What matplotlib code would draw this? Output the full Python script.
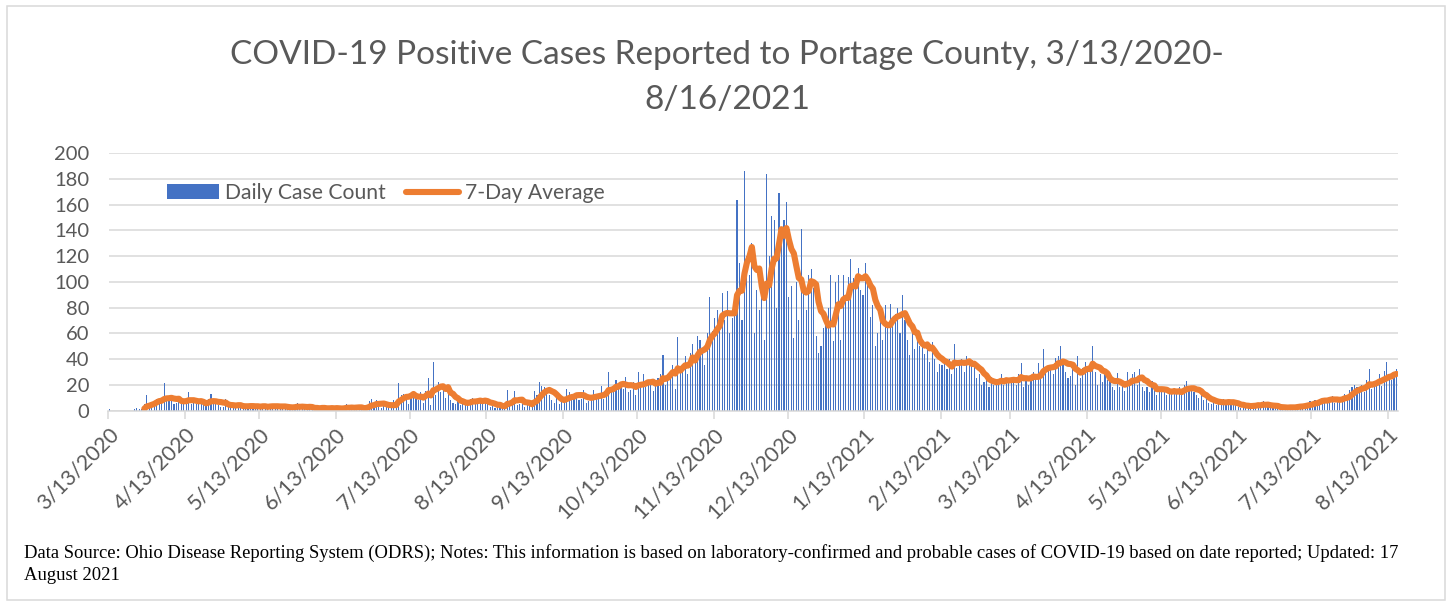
import numpy as np
import pandas as pd
import matplotlib
matplotlib.use("Agg")
import matplotlib.pyplot as plt
import matplotlib.dates as mdates
from matplotlib.patches import Rectangle, Patch
from matplotlib.lines import Line2D

# daily case counts, one list per month
mar_2020 = [1, 0, 0, 0, 0, 0, 0, 0, 0, 0, 1, 2, 1, 1, 5, 12, 4, 6, 7]
apr_2020 = [9, 8, 7, 21, 8, 7, 9, 5, 6, 8, 9, 6, 8, 14, 5, 6,
            5, 6, 7, 4, 6, 9, 13, 6, 5, 4, 3, 3, 9, 3]
may_2020 = [3, 4, 2, 5, 3, 4, 2, 3, 5, 2, 4, 3, 2, 4, 3, 2, 4, 5, 3, 2,
            3, 3, 2, 2, 3, 2, 3, 6, 2, 3, 1]
jun_2020 = [2, 3, 2, 1, 2, 1, 3, 2, 1, 2, 2, 1, 2, 2, 1, 2, 5, 2, 2, 1,
            3, 2, 2, 1, 3, 7, 9, 5, 8, 3]
jul_2020 = [2, 4, 3, 5, 4, 8, 4, 21, 12, 13, 12, 5, 13, 14, 10, 8, 14, 6,
            15, 25, 4, 38, 12, 22, 14, 17, 10, 14, 8, 6, 5]
aug_2020 = [7, 4, 6, 8, 5, 9, 10, 7, 6, 9, 5, 8, 6, 3, 4, 2, 3, 5, 2, 4,
            16, 6, 8, 15, 4, 5, 5, 3, 4, 6, 7]
sep_2020 = [15, 12, 22, 19, 18, 14, 12, 8, 6, 10, 5, 7, 9, 17, 14, 11, 12,
            13, 8, 9, 16, 6, 7, 10, 16, 11, 12, 19, 9, 14]
oct_2020 = [30, 18, 15, 24, 20, 21, 17, 26, 14, 16, 22, 12, 30, 20, 28,
            18, 24, 22, 15, 19, 25, 28, 43, 20, 28, 30, 35, 17, 57, 30, 35]
nov_2020 = [42, 28, 45, 52, 40, 58, 55, 48, 35, 60, 88, 62, 72, 78, 65,
            91, 70, 93, 60, 72, 78, 164, 115, 70, 186, 120, 105, 130, 60, 94]
dec_2020 = [78, 90, 55, 184, 120, 151, 148, 80, 169, 135, 148, 162, 88,
            97, 56, 100, 70, 141, 100, 78, 105, 110, 95, 58, 45, 50, 64,
            70, 80, 105, 54]
jan_2021 = [100, 105, 55, 105, 90, 104, 118, 103, 100, 111, 94, 90, 115,
            98, 73, 82, 50, 60, 70, 55, 82, 65, 83, 72, 75, 80, 60, 90, 70,
            55, 43]
feb_2021 = [60, 48, 58, 50, 50, 44, 50, 38, 53, 40, 30, 36, 35, 38, 32,
            40, 28, 52, 33, 36, 40, 30, 42, 35, 38, 34, 25, 28]
mar_2021 = [20, 22, 24, 18, 26, 20, 24, 22, 28, 20, 25, 24, 22, 26, 20,
            28, 37, 18, 25, 20, 27, 30, 26, 37, 25, 48, 30, 35, 33, 28, 41]
apr_2021 = [42, 50, 38, 30, 25, 27, 37, 20, 42, 25, 33, 38, 32, 35, 50,
            30, 20, 28, 22, 28, 24, 24, 18, 16, 29, 18, 20, 15, 30, 22]
may_2021 = [28, 30, 20, 32, 18, 15, 18, 14, 23, 16, 12, 18, 15, 17, 12,
            15, 13, 16, 14, 18, 12, 20, 23, 16, 18, 14, 12, 10, 12, 8, 10]
jun_2021 = [6, 5, 7, 4, 8, 6, 9, 5, 7, 6, 4, 5, 3, 2, 4, 3, 5, 2, 6, 4,
            5, 3, 7, 4, 3, 3, 2, 4, 2, 1]
jul_2021 = [3, 2, 2, 3, 4, 2, 3, 5, 3, 4, 6, 7, 5, 8, 7, 9, 10, 8, 7, 9,
            11, 6, 9, 8, 10, 13, 12, 16, 18, 20, 18]
aug_2021 = [15, 20, 14, 24, 32, 17, 22, 20, 28, 19, 31, 38, 25, 24, 30, 32]

first_day = "2020-03-13"
avg_first = 14          # 7-day average is shown from 3/27/2020 on

title_1 = "COVID-19 Positive Cases Reported to Portage County, 3/13/2020-"
title_2 = "8/16/2021"
note_1 = ("Data Source: Ohio Disease Reporting System (ODRS); Notes: This "
          "information is based on laboratory-confirmed and probable cases "
          "of COVID-19 based on date reported; Updated: 17")
note_2 = "August 2021"

daily = np.array(mar_2020 + apr_2020 + may_2020 + jun_2020 + jul_2020 +
                 aug_2020 + sep_2020 + oct_2020 + nov_2020 + dec_2020 +
                 jan_2021 + feb_2021 + mar_2021 + apr_2021 + may_2021 +
                 jun_2021 + jul_2021 + aug_2021, dtype=float)
days = pd.date_range(first_day, periods=len(daily), freq="D")
avg7 = pd.Series(daily).rolling(7).mean().to_numpy()

xd = mdates.date2num(days) + 0.5
ticks = pd.date_range(first_day, "2021-08-13", freq=pd.DateOffset(months=1))

W, H = 1448, 602
grey = "#595959"
line_c = "#D9D9D9"

plt.rcParams["font.family"] = ["Lato", "DejaVu Sans"]

fig = plt.figure(figsize=(W / 100, H / 100), dpi=100)
ax = fig.add_axes([108.5 / W, 1 - 410.5 / H, (1397.7 - 108.5) / W,
                   (410.5 - 153.3) / H])

ax.bar(xd, daily, width=0.45, color="#4472C4", linewidth=0)
ax.plot(xd[avg_first:], avg7[avg_first:], color="#ED7D31", lw=4.4,
        solid_capstyle="round", solid_joinstyle="round")

ax.set_xlim(mdates.date2num(days[0]), mdates.date2num(days[-1]) + 1)
ax.set_ylim(0, 200)
ax.set_yticks(np.arange(0, 201, 20))
ax.set_xticks(mdates.date2num(ticks))
ax.set_xticklabels([f"{d.month}/{d.day}/{d.year}" for d in ticks],
                   rotation=45, ha="right", rotation_mode="anchor")

ax.yaxis.grid(True, color=line_c, lw=1.1)
ax.set_axisbelow(True)
for s in ("top", "right", "left"):
    ax.spines[s].set_visible(False)
ax.spines["bottom"].set_color(line_c)
ax.spines["bottom"].set_linewidth(1.1)
ax.tick_params(axis="y", length=0, pad=14, labelsize=14.5, labelcolor=grey)
ax.tick_params(axis="x", length=6, width=1.1, color=line_c, pad=4,
               labelsize=15.5, labelcolor=grey)

handles = [Patch(facecolor="#4472C4", edgecolor="none"),
           Line2D([], [], color="#ED7D31", lw=4.4, solid_capstyle="round")]
fig.legend(handles, ["Daily Case Count", "7-Day Average"], ncol=2,
           loc="center left", bbox_to_anchor=(156 / W, 1 - 193 / H),
           frameon=False, fontsize=15.2, labelcolor=grey,
           handlelength=2.5, handleheight=0.7, handletextpad=0.25,
           columnspacing=1.0, borderpad=0)

fig.text(727 / W, 1 - 55 / H, title_1, ha="center", va="center",
         fontsize=24, color=grey)
fig.text(727 / W, 1 - 100 / H, title_2, ha="center", va="center",
         fontsize=24, color=grey)

fig.text(24 / W, 1 - 553 / H, note_1, ha="left", va="center",
         fontsize=13.4, family="Liberation Serif", color="black")
fig.text(24 / W, 1 - 576 / H, note_2, ha="left", va="center",
         fontsize=13.4, family="Liberation Serif", color="black")

fig.add_artist(Rectangle((7 / W, 2 / H), (1445 - 7) / W, (594) / H,
                         transform=fig.transFigure, fill=False,
                         edgecolor=line_c, lw=1.1))

fig.savefig("out.png", dpi=100)
